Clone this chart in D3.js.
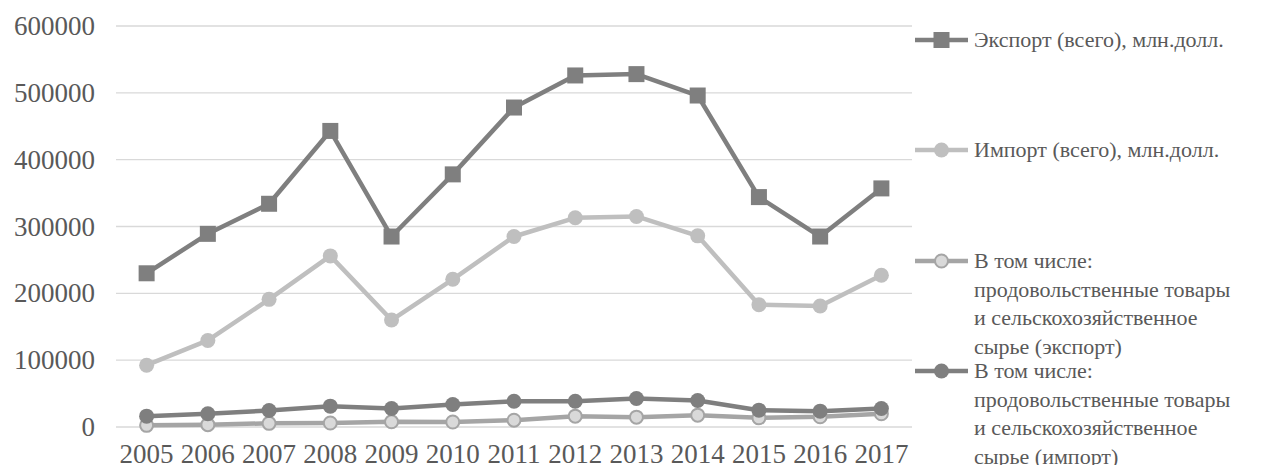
<!DOCTYPE html>
<html>
<head>
<meta charset="utf-8">
<script src="https://cdn.jsdelivr.net/npm/d3@7"></script>
<style>
  .leg { font: 22px "Liberation Serif"; }
</style>
</head>
<body style="margin:0; background:#fff">
<script>
var years = ["2005", "2006", "2007", "2008", "2009", "2010", "2011", "2012", "2013", "2014", "2015", "2016", "2017"];
var yTicks = [0, 100000, 200000, 300000, 400000, 500000, 600000];

var exportTotal = [230000, 289000, 334000, 443000, 285000, 378000, 478000, 526000, 528000, 496000, 344000, 285000, 357000];
var importTotal = [92500, 129500, 191000, 256000, 160000, 221000, 285000, 313000, 315000, 286000, 183000, 181000, 227000];
var foodExport = [2500, 3500, 5500, 6000, 7800, 7500, 10200, 16200, 14700, 17700, 13700, 15300, 19800];
var foodImport = [16200, 19800, 24700, 31200, 27700, 33700, 38600, 38600, 42700, 39700, 25200, 23700, 27700];

var seriesNames = [
  ["Экспорт (всего), млн.долл."],
  ["Импорт  (всего), млн.долл."],
  ["В том числе:", "продовольственные товары", "и сельскохозяйственное", "сырье (экспорт)"],
  ["В том числе:", "продовольственные товары", "и сельскохозяйственное", "сырье (импорт)"]
];

var series = [
  { name: seriesNames[0], values: exportTotal, line: "#7f7f7f", fill: "#7f7f7f", stroke: "#7f7f7f", shape: "square" },
  { name: seriesNames[1], values: importTotal, line: "#bfbfbf", fill: "#bfbfbf", stroke: "#bfbfbf", shape: "circle" },
  { name: seriesNames[2], values: foodExport, line: "#a5a5a5", fill: "#d9d9d9", stroke: "#a5a5a5", shape: "circle" },
  { name: seriesNames[3], values: foodImport, line: "#7f7f7f", fill: "#7f7f7f", stroke: "#7f7f7f", shape: "circle" }
];

var width = 1262, height = 465;
var margin = { top: 26, right: 350, bottom: 38, left: 116 };

var svg = d3.select("body").append("svg")
  .attr("width", width)
  .attr("height", height);

var x = d3.scalePoint()
  .domain(years)
  .range([margin.left, width - margin.right])
  .padding(0.5);

var y = d3.scaleLinear()
  .domain([0, 600000])
  .range([height - margin.bottom, margin.top]);

// grid
svg.append("g")
  .selectAll("line")
  .data(yTicks)
  .enter().append("line")
  .attr("x1", margin.left)
  .attr("x2", width - margin.right)
  .attr("y1", d => y(d))
  .attr("y2", d => y(d))
  .attr("stroke", "#d9d9d9")
  .attr("stroke-width", 1.3);

// y labels
svg.append("g")
  .selectAll("text")
  .data(yTicks)
  .enter().append("text")
  .attr("x", 95)
  .attr("y", d => y(d) + 9)
  .attr("text-anchor", "end")
  .attr("font-family", "Liberation Serif")
  .attr("font-size", 27)
  .attr("fill", "#595959")
  .text(d => d);

// x labels
svg.append("g")
  .selectAll("text")
  .data(years)
  .enter().append("text")
  .attr("x", d => x(d))
  .attr("y", 463)
  .attr("text-anchor", "middle")
  .style("font-family", d => "'Times New Roman'")
  .attr("font-size", 27)
  .attr("fill", "#595959")
  .text(d => d);

var line = d3.line()
  .x((d, i) => x(years[i]))
  .y(d => y(d));

function drawMarker(g, s, cx, cy) {
  if (s.shape == "square") {
    g.append("rect")
      .attr("x", cx - 8).attr("y", cy - 8)
      .attr("width", 16).attr("height", 16)
      .attr("fill", s.fill);
  } else {
    g.append("circle")
      .attr("cx", cx).attr("cy", cy)
      .attr("r", s.fill == s.stroke ? 7.5 : 6.5)
      .attr("fill", s.fill)
      .attr("stroke", s.stroke)
      .attr("stroke-width", s.fill == s.stroke ? 0 : 2);
  }
}

series.forEach(function (s) {
  var g = svg.append("g");
  g.append("path")
    .datum(s.values)
    .attr("d", line)
    .attr("fill", "none")
    .attr("stroke", s.line)
    .attr("stroke-width", 4.5)
    .attr("stroke-linejoin", "round");
  s.values.forEach(function (v, i) {
    drawMarker(g, s, x(years[i]), y(v));
  });
});

// legend
var legendY = [40, 150, 261, 371];
var legend = svg.append("g");
series.forEach(function (s, k) {
  var g = legend.append("g");
  g.append("line")
    .attr("x1", 915).attr("x2", 968)
    .attr("y1", legendY[k]).attr("y2", legendY[k])
    .attr("stroke", s.line)
    .attr("stroke-width", 4.5);
  drawMarker(g, s, 941.5, legendY[k]);
  s.name.forEach(function (ln, j) {
    g.append("text")
      .attr("class", "leg")
      .attr("x", 974)
      .attr("y", legendY[k] + j * 28.6 + 7)
      .attr("fill", "#595959")
      .text(ln);
  });
});
</script>
</body>
</html>
